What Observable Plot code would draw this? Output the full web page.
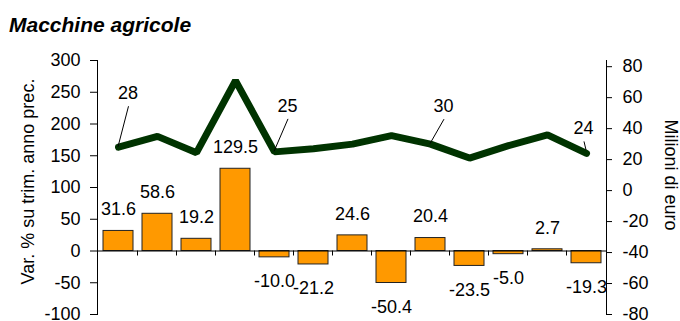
<!DOCTYPE html>
<html><head><meta charset="utf-8">
<script src="https://cdn.jsdelivr.net/npm/d3@7"></script>
<script src="https://cdn.jsdelivr.net/npm/@observablehq/plot@0.6"></script>
<style>
body{margin:0;background:#fff;font-family:"Liberation Sans",Arial,sans-serif;}
#title{position:relative;height:44px;}
#title span{position:absolute;left:9px;top:14.2px;font-weight:bold;font-style:italic;font-size:21px;line-height:21px;color:#000;white-space:nowrap;}
#chart svg{display:block;}
</style></head><body>
<div id="title"><span>Macchine agricole</span></div>
<div id="chart"></div>
<script>
// --- data ---
const trimestri = ["1","2","3","4","5","6","7","8","9","10","11","12","13"];
const varPerc = [31.6, 58.6, 19.2, 129.5, -10.0, -21.2, 24.6, -50.4, 20.4, -23.5, -5.0, 2.7, -19.3];
const milioniEuro = [28, 35, 24.5, 71, 25, 27, 30, 35.5, 30, 21, 29, 36, 24];
const etichetteLineaIdx = [0, 4, 8, 12];
const leftTicks = [-100, -50, 0, 50, 100, 150, 200, 250, 300];
const rightTicks = [-80, -60, -40, -20, 0, 20, 40, 60, 80];
const leftDomain = [-100, 300];
const rightDomain = [-80, 84];

// map right-axis values onto the left scale
const k = (leftDomain[1] - leftDomain[0]) / (rightDomain[1] - rightDomain[0]);
const toL = v => leftDomain[0] + (v - rightDomain[0]) * k;
const fromL = L => rightDomain[0] + (L - leftDomain[0]) / k;

const data = trimestri.map((c, i) => ({c, v: varPerc[i], m: milioniEuro[i], L: toL(milioniEuro[i])}));
const pos = data.filter(d => d.v >= 0), neg = data.filter(d => d.v < 0);

// annotation placement (label centre offset from point, px)
const labelOffsets = [{dx: 10, dy: -54}, {dx: 13.5, dy: -46}, {dx: 13.5, dy: -38}, {dx: -2.5, dy: -25}];

const W = 680, H = 277, mL = 97, mR = 74, mT = 16, mB = 7;
const pad = 0.235;

function xTicks(index, scales) {
  const g = d3.create("svg:g");
  const x = scales.x, step = x.step(), bw = x.bandwidth();
  const y0 = scales.y(0);
  trimestri.slice(1).forEach(c => {
    const px = x(c) + bw / 2 - step / 2;
    g.append("line").attr("x1", px).attr("x2", px).attr("y1", y0).attr("y2", y0 + 5)
      .attr("stroke", "#000").attr("stroke-width", 1);
  });
  return g.node();
}

function lineLabels(index, scales) {
  const g = d3.create("svg:g");
  const x = scales.x, bw = x.bandwidth();
  etichetteLineaIdx.forEach((i, j) => {
    const px = x(trimestri[i]) + bw / 2, py = scales.y(toL(milioniEuro[i]));
    const o = labelOffsets[j];
    const lx = px + o.dx, ly = py + o.dy;
    const endGap = j === 3 ? -3 : 0;
    g.append("line").attr("x1", lx + 0.5).attr("y1", ly + 13.5).attr("x2", px).attr("y2", py + endGap)
      .attr("stroke", "#000").attr("stroke-width", 1);
    g.append("text").attr("x", lx).attr("y", ly).attr("dy", "0.35em")
      .attr("text-anchor", "middle").attr("fill", "#000").attr("font-size", 18)
      .text(d3.format(".0f")(milioniEuro[i]));
  });
  return g.node();
}

const chart = Plot.plot({
  width: W, height: H,
  marginLeft: mL, marginRight: mR, marginTop: mT, marginBottom: mB,
  style: {fontFamily: "'Liberation Sans', Arial, sans-serif", fontSize: "18px", color: "#000", background: "#fff", overflow: "visible"},
  x: {type: "band", domain: trimestri, paddingInner: pad, paddingOuter: pad / 2, axis: null},
  y: {domain: leftDomain, axis: null},
  marks: [
    Plot.barY(data, {x: "c", y: "v", fill: "#FF9900", stroke: "#222", strokeWidth: 1}),
    Plot.ruleY([0], {stroke: "#000", strokeWidth: 1}),
    xTicks,
    Plot.frame({anchor: "left", stroke: "#000"}),
    Plot.frame({anchor: "right", stroke: "#000"}),
    Plot.axisY({anchor: "left", ticks: leftTicks, tickSize: 7, tickPadding: 10, tickFormat: d => String(d), label: null, fontSize: 18}),
    Plot.axisY({anchor: "right", ticks: rightTicks.map(toL), tickSize: 5, tickPadding: 11, tickFormat: d => String(Math.round(fromL(d))), label: null, fontSize: 18}),
    Plot.text(pos, {x: "c", y: "v", text: d => d.v.toFixed(1), dy: -21.5, fontSize: 18, fill: "#000"}),
    Plot.text(neg, {x: "c", y: "v", text: d => d.v.toFixed(1), dy: 24, fontSize: 18, fill: "#000"}),
    Plot.line(data, {x: "c", y: "L", stroke: "#003300", strokeWidth: 7, strokeLinejoin: "miter", strokeLinecap: "round"}),
    lineLabels,
    Plot.text(["Var. % su trim. anno prec."], {frameAnchor: "left", textAnchor: "middle", lineAnchor: "middle", rotate: -90, dx: -69, dy: -6, fontSize: 18, fill: "#000"}),
    Plot.text(["Milioni di euro"], {frameAnchor: "right", textAnchor: "middle", lineAnchor: "middle", rotate: 90, dx: 64, dy: -12.5, fontSize: 18, fill: "#000"})
  ]
});
document.getElementById("chart").appendChild(chart);
</script>
</body></html>
